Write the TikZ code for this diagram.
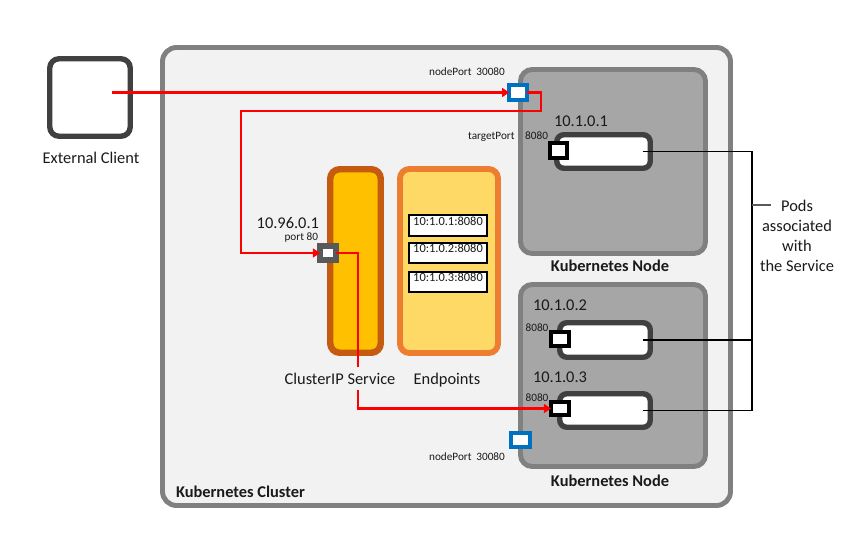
\documentclass[tikz,border=0pt]{standalone}
\usepackage{fontspec}
\setmainfont{Carlito}
\usetikzlibrary{arrows.meta,fit,calc}
\definecolor{clfill}{HTML}{F2F2F2}
\definecolor{clline}{HTML}{808080}
\definecolor{ndfill}{HTML}{A6A6A6}
\definecolor{dkline}{HTML}{404040}
\definecolor{svcfill}{HTML}{FFC000}
\definecolor{svcline}{HTML}{C55A11}
\definecolor{epfill}{HTML}{FFD966}
\definecolor{epline}{HTML}{ED7D31}
\definecolor{npblue}{HTML}{0070C0}
\definecolor{redc}{HTML}{FF0000}
\definecolor{portgray}{HTML}{595959}
\definecolor{txt}{HTML}{1A1A1A}
\begin{document}
\begin{tikzpicture}[x=0.03cm,y=-0.03cm,
  every node/.style={inner sep=0pt,outer sep=0pt,text=txt},
  clusterbox/.style={draw=clline,fill=clfill,line width=4.2pt,rounded corners=12pt},
  clientbox/.style={draw=dkline,fill=white,line width=4.6pt,rounded corners=8pt},
  nodebox/.style={draw=clline,fill=ndfill,line width=4.2pt,rounded corners=10pt},
  podbox/.style={draw=dkline,fill=white,line width=4.6pt,rounded corners=6pt},
  podport/.style={draw=black,fill=white,line width=3.4pt},
  nodeport/.style={draw=npblue,fill=white,line width=3.6pt},
  svcport/.style={draw=portgray,fill=white,line width=5pt},
  svcbox/.style={draw=svcline,fill=svcfill,line width=5.5pt,rounded corners=8pt},
  epbox/.style={draw=epline,fill=epfill,line width=5pt,rounded corners=8pt},
  epitem/.style={draw=black,fill=white,line width=2pt,font=\fontsize{10.6}{13}\selectfont},
  redline/.style={draw=redc,line width=2.4pt},
  redarrow/.style={redline,-{Triangle[length=6pt,width=7.5pt]}},
  pairline/.style={draw=black,line width=0.9pt},
  lbl/.style={font=\fontsize{14}{17}\selectfont},
  boldlbl/.style={font=\fontsize{14}{17}\selectfont\bfseries},
  smalllbl/.style={font=\fontsize{9.6}{11}\selectfont}
]
\useasboundingbox (0,0) rectangle (863,550);

% cluster and client
\node (cluster) [clusterbox,fit={(162.5,47.5)(730.5,505.5)}] {};
\node (client) [clientbox,fit={(49.75,58.75)(130.25,136.25)}] {};

% kubernetes nodes
\node (node1) [nodebox,fit={(520.5,69.5)(705.5,253.5)}] {};
\node (node2) [nodebox,fit={(520.5,284.5)(705.5,466.5)}] {};

% pods
\node (pod1) [podbox,fit={(556.75,134.75)(650.25,168.25)}] {};
\node (pod2) [podbox,fit={(559.75,322.75)(650.25,357.25)}] {};
\node (pod3) [podbox,fit={(559.75,393.75)(650.25,427.25)}] {};
\node (port1) [podport,fit={(550,143)(567,158)}] {};
\node (port2) [podport,fit={(551,332)(569,346)}] {};
\node (port3) [podport,fit={(551,402)(569,415)}] {};

% node ports
\node (np1) [nodeport,fit={(509.2,85.2)(526.8,99.8)}] {};
\node (np2) [nodeport,fit={(511.2,433.2)(529.8,446.8)}] {};

% service and endpoints
\node (svc) [svcbox,fit={(330.25,169.25)(380.75,352.75)}] {};
\node (ep) [epbox,fit={(400,169)(498,353)}] {};
\node (svcport) [svcport,fit={(320,246)(336,260)}] {};
\node (ep1) [epitem,fit={(409,215)(487,236)}] {10:1.0.1:8080};
\node (ep2) [epitem,fit={(409,243)(487,263)}] {10:1.0.2:8080};
\node (ep3) [epitem,fit={(409,272)(487,292)}] {10:1.0.3:8080};

% red traffic lines
\coordinate (cstart) at (112,92.5);
\coordinate (loopc) at (241,111);
\draw[redarrow] (cstart) -- (np1.west);
\draw[redarrow,line width=2pt] (np1.east) -- ++(14,0) |- (loopc) |- (svcport.west);
\draw[redarrow] (svcport.east) -- ++(22,0) |- (port3.west);

% pods bracket
\coordinate (brk) at (752,280);
\coordinate (tk) at (771,205);
\draw[pairline] ($(pod1.east)+(-7.5,0)$) -- (pod1.east -| brk) -- (pod3.east -| brk) -- ($(pod3.east)+(-7.5,0)$);
\draw[pairline] ($(pod2.east)+(-7.5,0)$) -- (pod2.east -| brk);
\draw[draw=portgray,line width=1.2pt] (tk -| brk) -- (tk);

% labels
\node (clientlbl) [lbl,anchor=base] at (91,163) {External Client};
\node (np1lbl) [smalllbl,anchor=base] at (467,75) {nodePort\hspace{4pt}30080};
\node (np2lbl) [smalllbl,anchor=base] at (467,460) {nodePort\hspace{4pt}30080};
\node (tplbl) [smalllbl,anchor=base east] at (548,139) {targetPort\hspace{9pt}8080};
\node (ip1) [lbl,anchor=base] at (581,126) {10.1.0.1};
\node (ip2) [lbl,anchor=base] at (560,310) {10.1.0.2};
\node (ip3) [lbl,anchor=base] at (560,382) {10.1.0.3};
\node (tp2) [smalllbl,anchor=base] at (537,331) {8080};
\node (tp3) [smalllbl,anchor=base] at (537,401) {8080};
\node (n1lbl) [boldlbl,anchor=base] at (610,271) {Kubernetes Node};
\node (n2lbl) [boldlbl,anchor=base] at (610,486) {Kubernetes Node};
\node (cllbl) [boldlbl,anchor=base west] at (176,497) {Kubernetes Cluster};
\node (siplbl) [lbl,anchor=base east] at (319,228) {10.96.0.1};
\node (sportlbl) [smalllbl,anchor=base east] at (318,240) {port 80};
\node (svclbl) [lbl,anchor=base,fill=clfill,inner ysep=5pt,inner xsep=1pt] at (340,384) {ClusterIP Service};
\node (eplbl) [lbl,anchor=base] at (447,384) {Endpoints};
\node (podslbl) [lbl,align=center,anchor=center] at (797,236) {Pods\\associated\\with\\the Service};
\end{tikzpicture}
\end{document}
